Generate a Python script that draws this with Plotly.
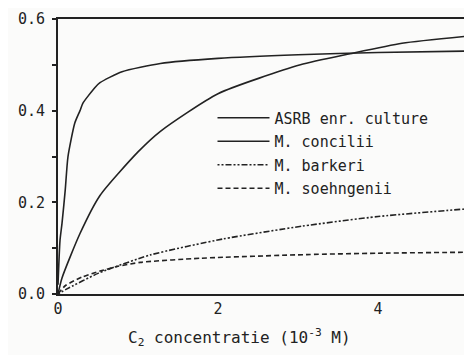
import plotly.graph_objects as go

# Data (x in 10^-3 M, y unitless rate)
asrb_x = [0.0, 0.025, 0.05, 0.09, 0.125, 0.21, 0.275, 0.31, 0.46, 0.525, 0.8, 1.28, 2.0, 3.0, 4.0, 5.15]
asrb_y = [0.02, 0.117, 0.154, 0.226, 0.30, 0.373, 0.40, 0.416, 0.45, 0.461, 0.485, 0.503, 0.514, 0.522, 0.527, 0.530]

conc_x = [0.0, 0.05, 0.275, 0.525, 1.0, 1.28, 2.0, 3.03, 3.65, 4.3, 5.15]
conc_y = [0.0, 0.035, 0.132, 0.215, 0.31, 0.355, 0.437, 0.50, 0.524, 0.547, 0.563]

bark_x = [0.0, 0.1, 0.5, 1.15, 2.06, 3.05, 4.0, 5.06, 5.15]
bark_y = [0.0, 0.010, 0.045, 0.085, 0.120, 0.148, 0.169, 0.185, 0.186]

soeh_x = [0.0, 0.09, 0.3, 0.525, 0.74, 1.03, 1.78, 3.11, 4.0, 5.06, 5.15]
soeh_y = [0.0, 0.018, 0.037, 0.050, 0.060, 0.069, 0.078, 0.086, 0.089, 0.091, 0.091]

names = ["ASRB enr. culture", "M. concilii", "M. barkeri", "M. soehngenii"]
series = [(asrb_x, asrb_y, "solid"), (conc_x, conc_y, "solid"),
          (bark_x, bark_y, "2px,2px,2px,2px,6px,2px"), (soeh_x, soeh_y, "5px,3px")]

y_tickvals = [0.0, 0.1, 0.2, 0.3, 0.4, 0.5, 0.6]
y_ticktext = ["0.0", "", "0.2", "", "0.4", "", "0.6"]
x_tickvals = [0, 2, 4]
x_ticktext = ["0", "2", "4"]

FONT = "DejaVu Sans Mono"
ink = "#222222"

fig = go.Figure()
for i, ((xs, ys, dash), nm) in enumerate(zip(series, names)):
    fig.add_trace(go.Scatter(x=xs, y=ys, mode="lines", name=nm, legendgroup=f"g{i}",
                             line=dict(color=ink, width=1.6, dash=dash, shape="spline", smoothing=0.6)))

fig.update_layout(
    width=464, height=347,
    margin=dict(l=50, r=2, t=11, b=61, autoexpand=False),
    paper_bgcolor="#fbfbfa", plot_bgcolor="#fbfbfa",
    font=dict(family=FONT, color=ink, size=14),
    showlegend=True,
    legend=dict(x=0.375, y=0.70, xanchor="left", yanchor="top",
                bgcolor="rgba(0,0,0,0)", font=dict(size=15, family=FONT, color=ink),
                itemwidth=52, tracegroupgap=1),
    xaxis=dict(range=[0, 5.15], tickvals=x_tickvals, ticktext=x_ticktext, automargin=False,
               showgrid=False, zeroline=False, showline=True, linecolor=ink, linewidth=2,
               mirror=True, ticks="", tickfont=dict(size=15)),
    yaxis=dict(range=[0, 0.6], tickvals=y_tickvals, ticktext=y_ticktext, automargin=False,
               showgrid=False, zeroline=False, showline=True, linecolor=ink, linewidth=2,
               mirror=True, ticks="outside", ticklen=4, tickwidth=1.5, tickcolor=ink,
               tickfont=dict(size=15), ticklabelstandoff=4),
    annotations=[dict(text="C<sub>2</sub> concentratie (10<sup>-3</sup> M)", xref="paper", yref="paper",
                      x=0.44, y=-0.158, xanchor="center", yanchor="middle", showarrow=False,
                      font=dict(size=16, family=FONT, color=ink))],
)

fig.write_html("out.html")
